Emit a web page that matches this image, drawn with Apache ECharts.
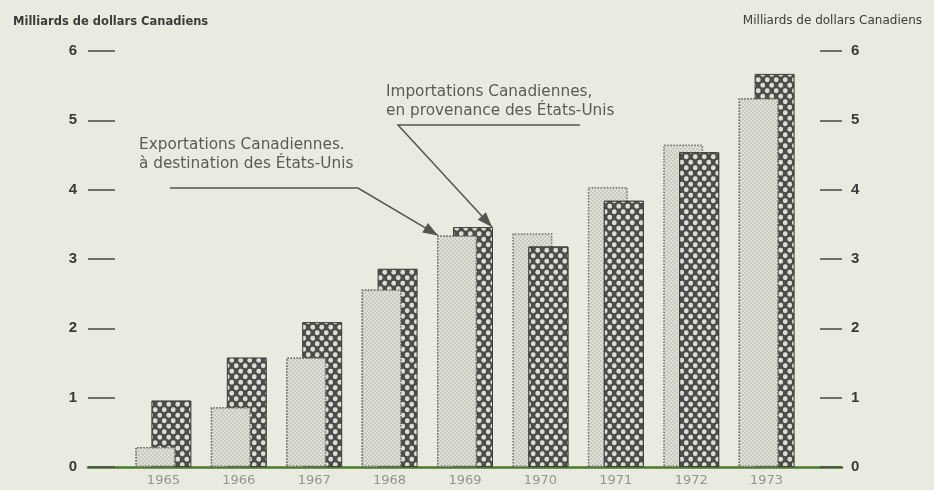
<!DOCTYPE html>
<html>
<head>
<meta charset="utf-8">
<script src="https://cdn.jsdelivr.net/npm/echarts@6/dist/echarts.min.js"></script>
<style>
  html, body { margin: 0; padding: 0; background: #e9ebe0; }
  #main { width: 934px; height: 490px; }
</style>
</head>
<body>
<div id="main"></div>
<script>
  // Milliards de dollars canadiens
  var years = [1965, 1966, 1967, 1968, 1969, 1970, 1971, 1972, 1973]
  var exportsUS = [0.29, 0.86, 1.58, 2.56, 3.34, 3.37, 4.04, 4.65, 5.32]
  var importsUS = [0.96, 1.58, 2.09, 2.86, 3.46, 3.18, 3.84, 4.54, 5.67]
  var yMin = 0
  var yMax = 6
  var yStep = 1
  var axisTitle = 'Milliards de dollars Canadiens'
  var exportsLabel = 'Exportations Canadiennes.\nà destination des États-Unis'
  var importsLabel = 'Importations Canadiennes,\nen provenance des États-Unis'

  // trame pointillée pour les barres
  function dotPattern(w, h, bg, dot, r, pts) {
    var c = document.createElement('canvas')
    c.width = w
    c.height = h
    var ctx = c.getContext('2d')
    ctx.fillStyle = bg
    ctx.fillRect(0, 0, w, h)
    ctx.fillStyle = dot
    pts.forEach(function (p) {
      ctx.beginPath()
      ctx.arc(p[0], p[1], r, 0, Math.PI * 2)
      ctx.fill()
    })
    return { image: c, repeat: 'repeat' }
  }

  var lightFill = dotPattern(4, 4, '#dfe0d6', '#a3a49c', 0.7, [[1, 1], [3, 3]])
  var darkFill = dotPattern(9, 11, '#4c4c48', '#dcded3', 2.4, [[2.25, 2.75], [6.75, 8.25]])

  var lightStyle = { color: lightFill, borderColor: '#6f6f69', borderWidth: 1.5, borderType: 'dotted' }
  var darkStyle = { color: darkFill, borderColor: '#3f3f3b', borderWidth: 1 }

  function pairs(arr) {
    return years.map(function (y, i) { return [y, arr[i]] })
  }
  // la barre la plus courte passe devant
  var exportsFront = years.map(function (y, i) {
    return [y, exportsUS[i] < importsUS[i] ? exportsUS[i] : '-']
  })
  var importsFront = years.map(function (y, i) {
    return [y, importsUS[i] <= exportsUS[i] ? importsUS[i] : '-']
  })

  var barBase = { type: 'bar', barWidth: 40, barGap: '-60%', silent: true }

  var option = {
    backgroundColor: '#e9ebe0',
    animation: false,
    title: [
      { text: axisTitle, left: 8, top: 11, textStyle: { fontFamily: 'DejaVu Sans', fontSize: 11.5, fontWeight: 'bold', color: '#3c3c38' } },
      { text: axisTitle, right: 7, top: 10, textStyle: { fontFamily: 'DejaVu Sans', fontSize: 12, fontWeight: 'normal', color: '#3c3c38' } }
    ],
    grid: { left: 88, right: 92, top: 51, bottom: 23 },
    xAxis: [
      {
        type: 'value', min: 1964, max: 1974, interval: 1,
        axisLine: { lineStyle: { color: '#4b7a2a', width: 2.5 } },
        axisTick: { show: false },
        splitLine: { show: false },
        axisLabel: {
          color: '#94958e', fontSize: 13, fontFamily: 'DejaVu Sans', margin: 7,
          formatter: function (v) { return years.indexOf(v) >= 0 ? String(v) : '' }
        }
      },
      { type: 'value', min: 1964, max: 1974, interval: 1, show: false }
    ],
    yAxis: [
      {
        type: 'value', min: yMin, max: yMax, interval: yStep, position: 'left',
        axisLine: { show: false },
        axisTick: { show: true, inside: true, length: 27, lineStyle: { color: '#4a4a46', width: 1.5 } },
        splitLine: { show: false },
        axisLabel: { color: '#3a3a36', fontSize: 15, fontWeight: 'bold', fontFamily: 'Liberation Sans', margin: 11 }
      },
      {
        type: 'value', min: yMin, max: yMax, interval: yStep, position: 'right',
        axisLine: { show: false },
        axisTick: { show: true, inside: true, length: 22, lineStyle: { color: '#4a4a46', width: 1.5 } },
        splitLine: { show: false },
        axisLabel: { color: '#3a3a36', fontSize: 15, fontWeight: 'bold', fontFamily: 'Liberation Sans', margin: 9 }
      }
    ],
    series: [
      Object.assign({}, barBase, { name: 'Exportations', xAxisIndex: 0, z: 2, itemStyle: lightStyle, data: pairs(exportsUS) }),
      Object.assign({}, barBase, { name: 'Importations', xAxisIndex: 0, z: 2, itemStyle: darkStyle, data: pairs(importsUS) }),
      Object.assign({}, barBase, { name: 'ExportationsFront', xAxisIndex: 1, z: 3, itemStyle: lightStyle, data: exportsFront }),
      Object.assign({}, barBase, { name: 'ImportationsFront', xAxisIndex: 1, z: 3, itemStyle: darkStyle, data: importsFront })
    ]
  }

  var chart = echarts.init(document.getElementById('main'))
  chart.setOption(option)

  // flèches vers les barres de 1969
  var i69 = years.indexOf(1969)
  var half = 28 // moitié de la paire de barres
  var pE = chart.convertToPixel({ xAxisIndex: 0, yAxisIndex: 0 }, [1969, exportsUS[i69]])
  var pI = chart.convertToPixel({ xAxisIndex: 0, yAxisIndex: 0 }, [1969, importsUS[i69]])
  var tipE = [pE[0] - half + 1, pE[1]]
  var tipI = [pI[0] + half - 1, pI[1]]

  function head(from, to) {
    var dx = to[0] - from[0]
    var dy = to[1] - from[1]
    var len = Math.sqrt(dx * dx + dy * dy)
    var ux = dx / len, uy = dy / len
    var L = 15, W = 5.5
    return {
      type: 'polygon',
      shape: { points: [to, [to[0] - L * ux - W * uy, to[1] - L * uy + W * ux], [to[0] - L * ux + W * uy, to[1] - L * uy - W * ux]] },
      style: { fill: '#55554f' }
    }
  }

  var lineStyle = { stroke: '#55554f', lineWidth: 1.5, fill: null }
  var textFont = '15.3px "DejaVu Sans"'

  chart.setOption({
    graphic: [
      { type: 'text', x: 139, y: 136, style: { text: exportsLabel, font: textFont, fill: '#5a5b53', lineHeight: 19 } },
      { type: 'polyline', shape: { points: [[170, 188], [358, 188], tipE] }, style: lineStyle },
      head([358, 188], tipE),
      { type: 'text', x: 386, y: 83, style: { text: importsLabel, font: textFont, fill: '#5a5b53', lineHeight: 19 } },
      { type: 'polyline', shape: { points: [[580, 125], [398, 125], tipI] }, style: lineStyle },
      head([398, 125], tipI)
    ]
  })
</script>
</body>
</html>
